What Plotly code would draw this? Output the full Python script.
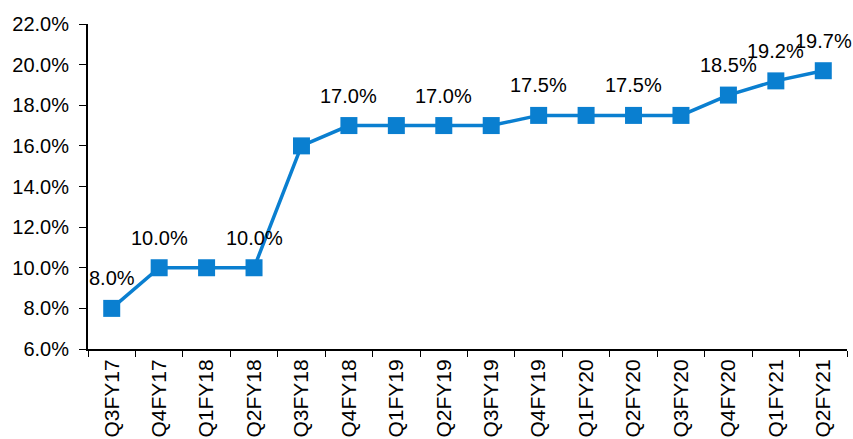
import plotly.graph_objects as go

categories = ["Q3FY17", "Q4FY17", "Q1FY18", "Q2FY18", "Q3FY18", "Q4FY18", "Q1FY19", "Q2FY19",
              "Q3FY19", "Q4FY19", "Q1FY20", "Q2FY20", "Q3FY20", "Q4FY20", "Q1FY21", "Q2FY21"]
values = [8.0, 10.0, 10.0, 10.0, 16.0, 17.0, 17.0, 17.0, 17.0, 17.5, 17.5, 17.5, 17.5, 18.5, 19.2, 19.7]
labeled = ["Q3FY17", "Q4FY17", "Q2FY18", "Q4FY18", "Q2FY19", "Q4FY19", "Q2FY20", "Q4FY20", "Q1FY21", "Q2FY21"]

color = "#0A7FD0"
font = dict(family="Liberation Sans, Arial, sans-serif", size=20, color="#000000")

fig = go.Figure()
fig.add_trace(go.Scatter(
    x=categories, y=values, mode="lines+markers",
    line=dict(color=color, width=3.5),
    marker=dict(symbol="square", size=17, color=color),
    hoverinfo="skip", showlegend=False, cliponaxis=False,
))

for c, v in zip(categories, values):
    if c in labeled:
        fig.add_annotation(x=c, y=v, text=f"{v:.1f}%", showarrow=False,
                           yshift=30, font=font)

fig.update_layout(
    width=853, height=439,
    margin=dict(l=88, r=6, t=24, b=90),
    paper_bgcolor="white", plot_bgcolor="white",
    font=font,
)
fig.update_xaxes(
    type="category", tickson="boundaries", ticks="outside", ticklen=6,
    tickcolor="black", showline=True, linecolor="black", linewidth=2,
    tickangle=-90, showgrid=False, tickfont=dict(size=21), automargin=False,
    range=[-0.5, len(categories) - 0.5],
)
fig.update_yaxes(
    range=[6, 22], dtick=2, tickformat=".1f", ticksuffix="%",
    ticks="outside", ticklen=7, tickcolor="black", showline=True,
    linecolor="black", linewidth=2, showgrid=False, zeroline=False,
    tickfont=dict(size=20), ticklabelstandoff=6, automargin=False,
)

fig.write_html("out.html")
